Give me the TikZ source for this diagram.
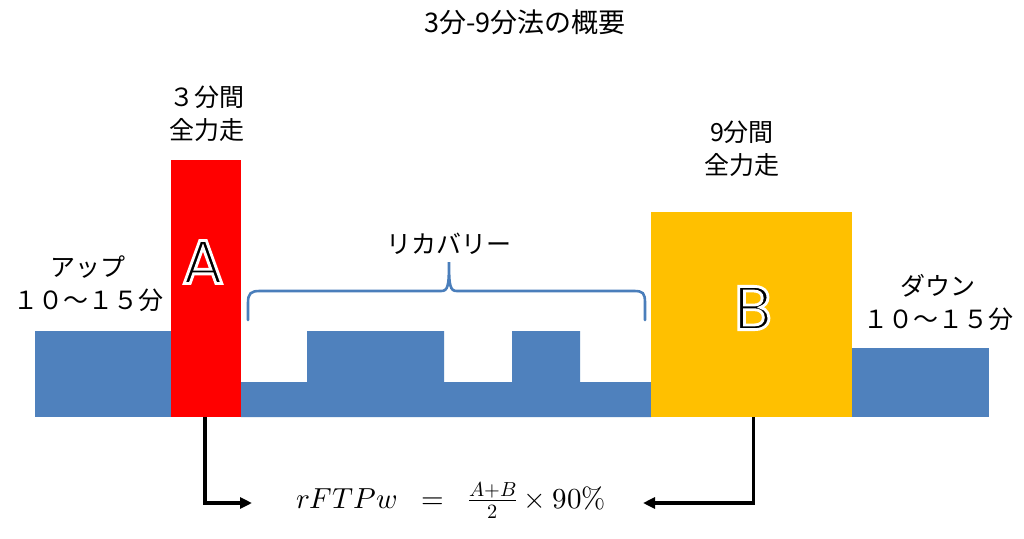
\documentclass[tikz,border=0pt]{standalone}
\usepackage{fontspec}
\usepackage{unicode-math}
\setmathfont{Latin Modern Math}
\usetikzlibrary{arrows.meta}
\newfontfamily\jp{Noto Sans CJK JP}
\newfontfamily\geo{Poppins}
\definecolor{barblue}{HTML}{4F81BD}
\definecolor{barred}{HTML}{FF0000}
\definecolor{baryellow}{HTML}{FFC000}
\definecolor{braceblue}{HTML}{4A7EBB}
\newcommand\haloletter[1]{\special{pdf:literal direct q 2 Tr 2.8 w 1 1 1 RG}#1\special{pdf:literal direct Q}}
\tikzset{
  bar/.style={draw=none, inner sep=0pt, outer sep=0pt},
  jplabel/.style={font=\jp\fontsize{25}{33}\selectfont, align=center, inner sep=0pt, text=black},
  bigletter/.style={font=\geo\fontsize{62}{62}\selectfont, inner sep=0pt, text=black},
  bracepath/.style={draw=braceblue, line width=2.6pt, line cap=round},
  conn/.style={draw=black, line width=3.2pt, -{Triangle[length=12pt,width=11pt]}},
}
\begin{document}
\begin{tikzpicture}[x=1pt,y=-1pt]
\useasboundingbox[fill=white] (0,0) rectangle (1024,538);
% title
\node[font=\jp\fontsize{27}{30}\selectfont, inner sep=0pt] (title) at (525,22) {3分-9分法の概要};
% blue effort profile
\fill[barblue] (35,331) rectangle (171,417);
\fill[barblue] (241,382) -- (307,382) -- (307,331) -- (444,331) -- (444,382) -- (512,382) -- (512,331) -- (580,331) -- (580,382) -- (651,382) -- (651,417) -- (241,417) -- cycle;
\fill[barblue] (851,348) rectangle (989,417);
% bars
\node[bar, fill=barred, minimum width=70pt, minimum height=257pt] (A) at (206,288.5) {};
\node[bar, fill=baryellow, minimum width=201pt, minimum height=205.5pt] (B) at (751.2,314.5) {};
% labels
\node[jplabel] (t3) at (207,113.5) {３分間\\全力走};
\node[jplabel] (t9) at (742,148.5) {9分間\\全力走};
\node[jplabel] (tup) at (88,283.5) {アップ\\１０～１５分};
\node[jplabel] (tdown) at (938,302) {ダウン\\１０～１５分};
\node[jplabel] (trec) at (449,244) {リカバリー};
% brace
\draw[bracepath] (248,320) -- (248,303) .. controls (248,293) and (251,291) .. (260,291)
  -- (441,291) .. controls (448,291) and (449,286) .. (449,262)
  .. controls (449,286) and (450,291) .. (457,291) -- (634,291)
  .. controls (643,291) and (645,293) .. (645,303) -- (645,320);
% formula
\node[anchor=base, inner sep=0pt] (fml) at (451,508) {\fontsize{29}{33}\selectfont $rFTPw\;\;=\;\;\frac{A+B}{2}\times 90\%$};
\coordinate (fa) at (252,503);
\coordinate (fb) at (643,503);
\draw[conn] ([xshift=-1pt]A.south) |- (fa);
\draw[conn] ([xshift=2pt]B.south) |- (fb);
% letters in the bars
\node[bigletter] (la) at (203,262) {\haloletter{A}};
\node[bigletter] (lb) at (753,308) {\haloletter{B}};
\end{tikzpicture}
\end{document}
